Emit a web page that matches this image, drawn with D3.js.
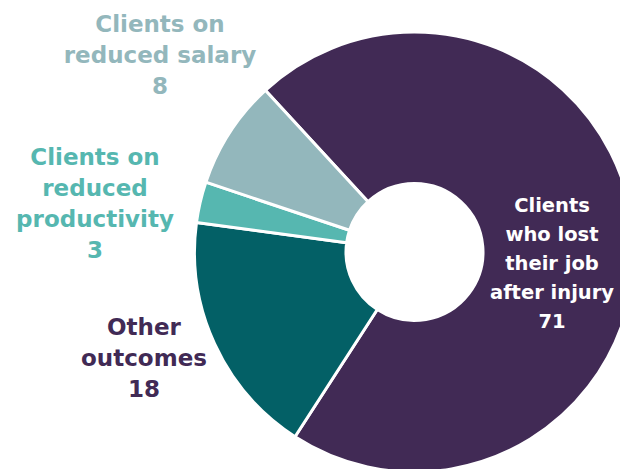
<!DOCTYPE html>
<html><head><meta charset="utf-8">
<script src="https://cdn.jsdelivr.net/npm/d3@7"></script>
<style>body{margin:0;background:#fff}svg{display:block}</style>
</head><body>
<svg id="chart" width="620" height="469"></svg>
<script>
const categories = ["Clients who lost their job after injury", "Other outcomes", "Clients on reduced productivity", "Clients on reduced salary"];
const values = [71, 18, 3, 8];
const colors = ["#412a55", "#036066", "#56b7b0", "#93b7bc"];
const labelLines = [
  ["Clients", "who lost", "their job", "after injury"],
  ["Other", "outcomes"],
  ["Clients on", "reduced", "productivity"],
  ["Clients on", "reduced salary"]
];
const labelColors = ["#ffffff", "#412a55", "#56b7b0", "#93b7bc"];

const svg = d3.select("#chart");
const cx = 414.5, cy = 252, R = 220, r0 = 68.5;
const start = -42.7 * Math.PI / 180;
const pie = d3.pie().sort(null).value(d => d).startAngle(start).endAngle(start + 2 * Math.PI);
const arc = d3.arc().innerRadius(r0).outerRadius(R);
const arcs = pie(values);
const g = svg.append("g").attr("transform", `translate(${cx},${cy})`);
g.selectAll("path").data(arcs).join("path")
  .attr("d", arc)
  .attr("fill", (d, i) => colors[i])
  .attr("stroke", "#fff").attr("stroke-width", 3).attr("stroke-linejoin", "round");

// label anchors (absolute), line spacing, font size
const labelPos = [
  {x: 552, y: 212, lh: 29, fs: 19.5},
  {x: 144, y: 335, lh: 31, fs: 23},
  {x: 95, y: 165, lh: 31, fs: 23},
  {x: 160, y: 32, lh: 31, fs: 23}
];
categories.forEach((c, i) => {
  const p = labelPos[i];
  const lines = labelLines[i].concat([String(values[i])]);
  lines.forEach((l, j) => {
    svg.append("text")
      .attr("text-anchor", "middle")
      .attr("font-family", "'DejaVu Sans', sans-serif")
      .attr("font-weight", 700)
      .attr("font-size", p.fs)
      .attr("fill", labelColors[i])
      .attr("x", p.x).attr("y", p.y + j * p.lh).text(l);
  });
});
</script>
</body></html>
